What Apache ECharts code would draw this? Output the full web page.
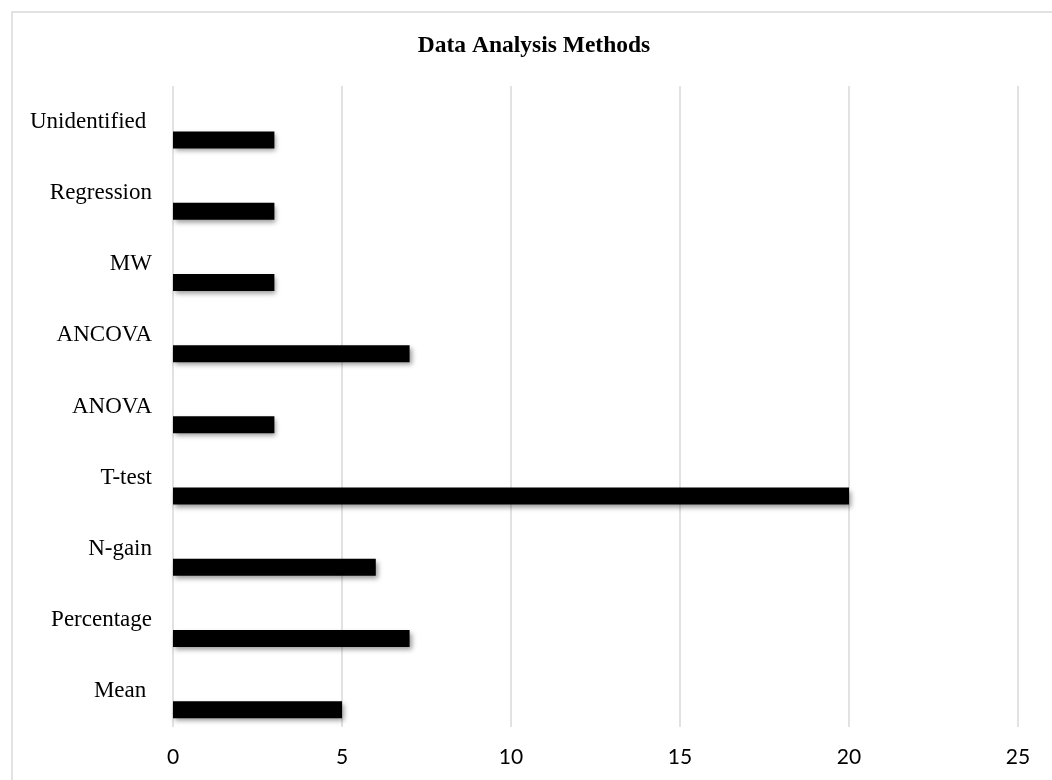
<!DOCTYPE html>
<html>
<head>
<meta charset="utf-8">
<style>
  html, body { margin: 0; padding: 0; background: #ffffff; }
  #chart { width: 1052px; height: 780px; }
</style>
<script src="https://cdn.jsdelivr.net/npm/echarts@6/dist/echarts.min.js"></script>
</head>
<body>
<div id="chart"></div>
<script>
// Methods, listed bottom to top as the category axis draws them
const methods = ['Mean ', 'Percentage', 'N-gain', 'T-test', 'ANOVA', 'ANCOVA', 'MW', 'Regression', 'Unidentified '];
// Number of studies using each method
const counts = [5, 7, 6, 20, 3, 7, 3, 3, 3];
// Value axis ticks
const xTicks = [0, 5, 10, 15, 20, 25];

const chart = echarts.init(document.getElementById('chart'), null, { renderer: 'canvas' });

const barStyle = {
  color: '#000000',
  shadowColor: 'rgba(0,0,0,0.4)',
  shadowBlur: 5,
  shadowOffsetX: 2,
  shadowOffsetY: 3
};

chart.setOption({
  backgroundColor: '#ffffff',
  animation: false,
  title: {
    text: 'Data Analysis Methods',
    left: 529,
    top: 29,
    textAlign: 'center',
    textStyle: {
      fontFamily: '"Liberation Serif", "Times New Roman", serif',
      fontWeight: 'bold',
      fontSize: 23.5,
      color: '#000000'
    }
  },
  graphic: [{
    type: 'rect',
    shape: { x: 12, y: 12, width: 1060, height: 800 },
    style: { fill: 'none', stroke: '#d9d9d9', lineWidth: 1.5 },
    silent: true
  }],
  grid: { left: 173, right: 34, top: 86, bottom: 53 },
  xAxis: {
    type: 'value',
    min: xTicks[0],
    max: xTicks[xTicks.length - 1],
    interval: xTicks[1] - xTicks[0],
    axisLine: { show: false },
    axisTick: { show: false },
    splitLine: { show: true, lineStyle: { color: '#d9d9d9', width: 1.5 } },
    axisLabel: {
      margin: 20,
      fontFamily: 'Lato, "Open Sans", sans-serif',
      fontSize: 21,
      color: '#000000'
    }
  },
  yAxis: {
    type: 'category',
    data: methods,
    axisLine: { show: false },
    axisTick: { show: false },
    splitLine: { show: false },
    axisLabel: {
      margin: 21,
      fontFamily: '"Liberation Serif", "Times New Roman", serif',
      fontSize: 23,
      color: '#000000'
    }
  },
  series: [
    {
      // empty slot that pushes each bar below its category label
      type: 'bar',
      data: methods.map(() => null),
      barWidth: 17,
      barGap: '116%',
      itemStyle: barStyle
    },
    {
      type: 'bar',
      data: counts,
      barWidth: 17,
      barGap: '116%',
      itemStyle: barStyle
    }
  ]
});
</script>
</body>
</html>
